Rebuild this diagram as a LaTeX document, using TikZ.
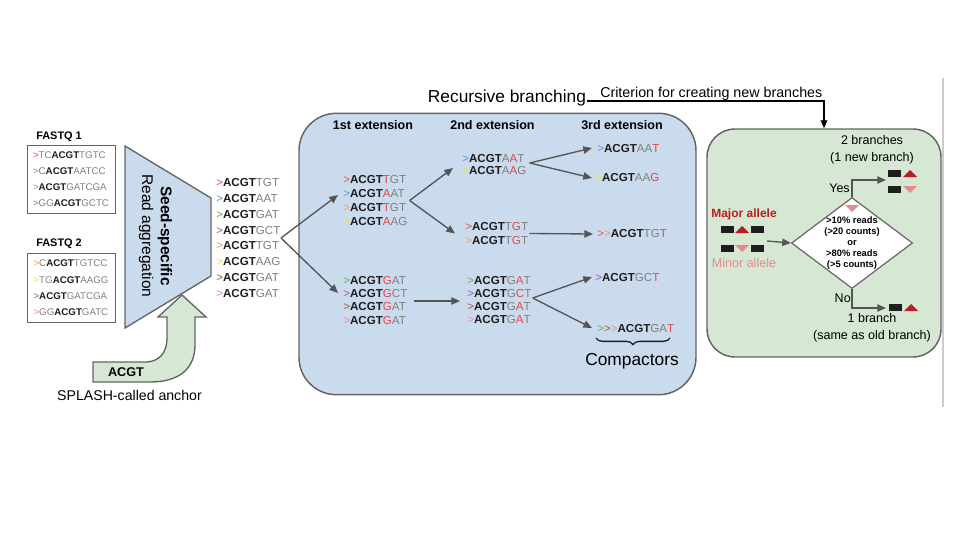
\documentclass[tikz,border=0pt]{standalone}
\usepackage{fontspec}
\setmainfont{Liberation Sans}
\usetikzlibrary{shapes.geometric,arrows.meta,calc,decorations.pathreplacing}
\definecolor{bluefill}{RGB}{203,219,238}
\definecolor{greenfill}{RGB}{214,232,212}
\definecolor{bordergray}{RGB}{100,100,100}
\definecolor{arrgray}{RGB}{85,85,85}
\definecolor{seqgray}{RGB}{128,128,128}
\definecolor{seqred}{RGB}{232,70,70}
\definecolor{seqblack}{RGB}{30,30,30}
\definecolor{majred}{RGB}{185,30,30}
\definecolor{minpink}{RGB}{226,140,140}
\definecolor{iconblack}{RGB}{30,30,30}
\definecolor{cR}{RGB}{232,80,80}
\definecolor{cB}{RGB}{100,150,210}
\definecolor{cG}{RGB}{90,180,90}
\definecolor{cP}{RGB}{160,90,190}
\definecolor{cO}{RGB}{245,160,80}
\definecolor{cY}{RGB}{242,228,40}
\definecolor{cBr}{RGB}{160,95,60}
\definecolor{cPk}{RGB}{240,130,180}
\newcommand\chv[1]{\textcolor{#1}{>}}
\newcommand\AC{\textcolor{seqblack}{\textbf{ACGT}}}
\newcommand\gy[1]{\textcolor{seqgray}{#1}}
\newcommand\rd[1]{\textcolor{seqred}{#1}}
\newcommand\icbox[2]{\fill[iconblack] (#1,#2) rectangle ++(13,7);}
\newcommand\icup[3]{\fill[#3] (#1,#2+7) -- ++(14,0) -- ++(-7,-7) -- cycle;}
\newcommand\icdown[3]{\fill[#3] (#1,#2) -- ++(14,0) -- ++(-7,7) -- cycle;}
\tikzset{
  sarrow/.style={draw=arrgray, line width=1pt, -{Triangle[length=6.5pt,width=5.5pt]}},
  seqs/.style={inner sep=0pt, align=left, anchor=west},
  seqfont/.style={font=\fontsize{8.7}{#1}\selectfont},
  head/.style={font=\bfseries\fontsize{9.4}{11}\selectfont, inner sep=0pt},
  gtext/.style={font=\fontsize{9.4}{12.5}\selectfont, align=center, inner sep=0pt},
}
\begin{document}
\begin{tikzpicture}[x=0.75pt,y=-0.75pt]
\useasboundingbox (0,0) rectangle (960,540);
\fill[white] (0,0) rectangle (960,540);

% ---------- left part ----------
\node[font=\bfseries\fontsize{8.2}{10}\selectfont, anchor=west, inner sep=0pt] (fq1l) at (36,137) {FASTQ 1};
\node[draw=bordergray, line width=0.7pt, align=left, inner sep=0pt, minimum width=66pt, minimum height=50.5pt, font=\fontsize{7.3}{12}\selectfont] (fq1) at (71,179.5)
 {\chv{cR}\gy{TC}\AC\gy{TGTC}\\ \chv{cB}\gy{C}\AC\gy{AATCC}\\ \chv{cG}\AC\gy{GATCGA}\\ \chv{cP}\gy{GG}\AC\gy{GCTC}};
\node[font=\bfseries\fontsize{8.2}{10}\selectfont, anchor=west, inner sep=0pt] (fq2l) at (36,244) {FASTQ 2};
\node[draw=bordergray, line width=0.7pt, align=left, inner sep=0pt, minimum width=66pt, minimum height=52pt, font=\fontsize{7.3}{12.2}\selectfont] (fq2) at (71,288)
 {\chv{cO}\gy{C}\AC\gy{TGTCC}\\ \chv{cY}\gy{TG}\AC\gy{AAGG}\\ \chv{cBr}\AC\gy{GATCGA}\\ \chv{cPk}\gy{GG}\AC\gy{GATC}};

% trapezoid
\draw[fill=bluefill, draw=bordergray, line width=1pt] (125,146) -- (211,198) -- (211,276) -- (125,328) -- cycle;
\node[rotate=-90, align=center, inner sep=0pt, font=\fontsize{11.6}{14.2}\selectfont] (agg) at (155.5,236) {\textbf{Seed-specific}\\Read aggregation};

% green anchor arrow
\draw[fill=greenfill, draw=bordergray, line width=1pt]
  (93,362) -- (145,362) .. controls (160,362) and (167,352) .. (167,338) -- (167,317) -- (158,317)
  -- (182,295) -- (206,317) -- (195,317) -- (195,345) .. controls (195,368) and (180,382) .. (150,382)
  -- (93,382) -- cycle;
\node[font=\bfseries\fontsize{9.5}{11}\selectfont, inner sep=0pt] (anc) at (126,372) {ACGT};
\node[font=\fontsize{10.6}{12}\selectfont, inner sep=0pt] (ancl) at (129.5,395) {SPLASH-called anchor};

% aggregated reads
\node[seqs, seqfont=11.8] (out) at (216,238)
 {\chv{cR}\AC\gy{TGT}\\ \chv{cB}\AC\gy{AAT}\\ \chv{cG}\AC\gy{GAT}\\ \chv{cP}\AC\gy{GCT}\\
  \chv{cO}\AC\gy{TGT}\\ \chv{cY}\AC\gy{AAG}\\ \chv{cBr}\AC\gy{GAT}\\ \chv{cPk}\AC\gy{GAT}};

% ---------- middle box ----------
\node[draw=bordergray, fill=bluefill, rounded corners=28pt, line width=1.1pt, minimum width=297.75pt, minimum height=211pt, inner sep=0pt] (mbox) at (497.5,254) {};
\node[head] (h1) at (373,125) {1st extension};
\node[head] (h2) at (492.5,125) {2nd extension};
\node[head] (h3) at (622,125) {3rd extension};

\node[seqs, seqfont=10.6] (A) at (343,200.5)
 {\chv{cR}\AC\rd{T}\gy{GT}\\ \chv{cB}\AC\rd{A}\gy{AT}\\ \chv{cO}\AC\rd{T}\gy{GT}\\ \chv{cY}\AC\rd{A}\gy{AG}};
\node[seqs, seqfont=10] (B) at (343,300)
 {\chv{cG}\AC\rd{G}\gy{AT}\\ \chv{cP}\AC\rd{G}\gy{CT}\\ \chv{cBr}\AC\rd{G}\gy{AT}\\ \chv{cPk}\AC\rd{G}\gy{AT}};
\node[seqs, seqfont=8.8] (C1) at (462,164.5)
 {\chv{cB}\AC\gy{A}\rd{A}\gy{T}\\ \chv{cY}\AC\gy{A}\rd{A}\gy{G}};
\node[seqs, seqfont=10] (C2) at (465,233.5)
 {\chv{cR}\AC\gy{T}\rd{G}\gy{T}\\ \chv{cO}\AC\gy{T}\rd{G}\gy{T}};
\node[seqs, seqfont=9.8] (C3) at (467,300)
 {\chv{cG}\AC\gy{G}\rd{A}\gy{T}\\ \chv{cP}\AC\gy{G}\rd{C}\gy{T}\\ \chv{cBr}\AC\gy{G}\rd{A}\gy{T}\\ \chv{cPk}\AC\gy{G}\rd{A}\gy{T}};
\node[seqs, seqfont=10] (D1) at (597,149) {\chv{cB}\AC\gy{AA}\rd{T}};
\node[seqs, seqfont=10] (D2) at (595,178) {\chv{cY}\AC\gy{AA}\rd{G}};
\node[seqs, seqfont=10] (D3) at (597,234) {\chv{cR}\chv{cO}\AC\gy{TG}\rd{T}};
\node[seqs, seqfont=10] (D4) at (595,277) {\chv{cP}\AC\gy{GC}\rd{T}};
\node[seqs, seqfont=10] (D5) at (597,328) {\chv{cG}\chv{cBr}\chv{cPk}\AC\gy{GA}\rd{T}};

\coordinate (fk) at (281,238);
\draw[draw=arrgray, line width=1pt] (out.east) -- (fk);
\draw[sarrow] (fk) -- ($(A.west)+(-5,-5.5)$);
\draw[sarrow] (fk) -- ($(B.west)+(-5,-7)$);
\draw[sarrow] ($(A.east)+(2,0)$) -- ($(C1.west)+(-9,3.5)$);
\draw[sarrow] ($(A.east)+(2,0)$) -- ($(C2.west)+(-10,0)$);
\draw[sarrow] ($(B.east)+(6,1)$) -- ($(C3.west)+(-7,1)$);
\draw[sarrow] ($(C1.east)+(3,-1.5)$) -- ($(D1.west)+(-5,-1)$);
\draw[sarrow] ($(C1.east)+(3,-1.5)$) -- ($(D2.west)+(-3,0)$);
\draw[sarrow] ($(C2.east)+(1,0)$) -- ($(D3.west)+(-4,0)$);
\draw[sarrow] ($(C3.east)+(1,-2)$) -- ($(D4.west)+(-3,0)$);
\draw[sarrow] ($(C3.east)+(1,-2)$) -- ($(D5.west)+(-5,0)$);

\draw[decorate, decoration={brace, amplitude=5pt}, line width=1pt, draw=seqblack] (670,338) -- (596,338);
\node[font=\fontsize{13}{15}\selectfont, inner sep=0pt] (comp) at (632,361) {Compactors};

% ---------- title and criterion ----------
\node[font=\fontsize{13}{15}\selectfont, anchor=base west, inner sep=0.5pt] (title) at (427,102) {Recursive branching};
\node[font=\fontsize{10.7}{12}\selectfont, anchor=base west, inner sep=0pt] (crit) at (600,97.5) {Criterion for creating new branches};

% ---------- right box ----------
\node[draw=bordergray, fill=greenfill, rounded corners=21pt, line width=1.1pt, minimum width=175.5pt, minimum height=171pt, inner sep=0pt] (gbox) at (824,243) {};
\draw[black, line width=1pt, -{Triangle[length=6pt,width=5pt]}] ($(title.base east)+(0,-1)$) -| (gbox.north);

\node[draw=bordergray, fill=white, shape=diamond, line width=0.9pt, minimum width=90.75pt, minimum height=68.25pt, inner sep=0pt] (dia) at (852,243) {};
\node[font=\bfseries\fontsize{7}{8.2}\selectfont, align=center, inner sep=0pt] (crt) at (852,243) {>10\% reads\\(>20 counts)\\or\\>80\% reads\\(>5 counts)};
\icdown{845}{205}{minpink}

\node[gtext] (two) at (872,150) {2 branches\\(1 new branch)};
\node[gtext] (one) at (872,327.5) {1 branch\\(same as old branch)};
\node[gtext, anchor=east] (yes) at (850,188) {Yes};
\node[gtext, anchor=east] (no) at (851,298) {No};
\node[font=\bfseries\fontsize{9}{11}\selectfont, text=majred, inner sep=0pt] (maj) at (744,214) {Major allele};
\node[font=\fontsize{9.4}{11}\selectfont, text=minpink, inner sep=0pt] (min) at (744,263) {Minor allele};

\icbox{721}{226} \icup{735}{226}{majred} \icbox{751}{226}
\icbox{721}{245} \icdown{735}{245}{minpink} \icbox{751}{245}
\icbox{888}{170} \icup{903}{170}{majred}
\icbox{888}{186} \icdown{903}{186}{minpink}
\icbox{889}{304} \icup{904}{304}{majred}

\coordinate (alle) at (767,241);
\coordinate (yt) at (886,180);
\coordinate (nt) at (886,308);
\draw[sarrow] (alle) -- (dia.west);
\draw[sarrow] (dia.north) |- (yt);
\draw[sarrow] (dia.south) |- (nt);

% right separator line
\draw[draw=black!20, line width=0.8pt] (943,78) -- (943,407);
\end{tikzpicture}
\end{document}
